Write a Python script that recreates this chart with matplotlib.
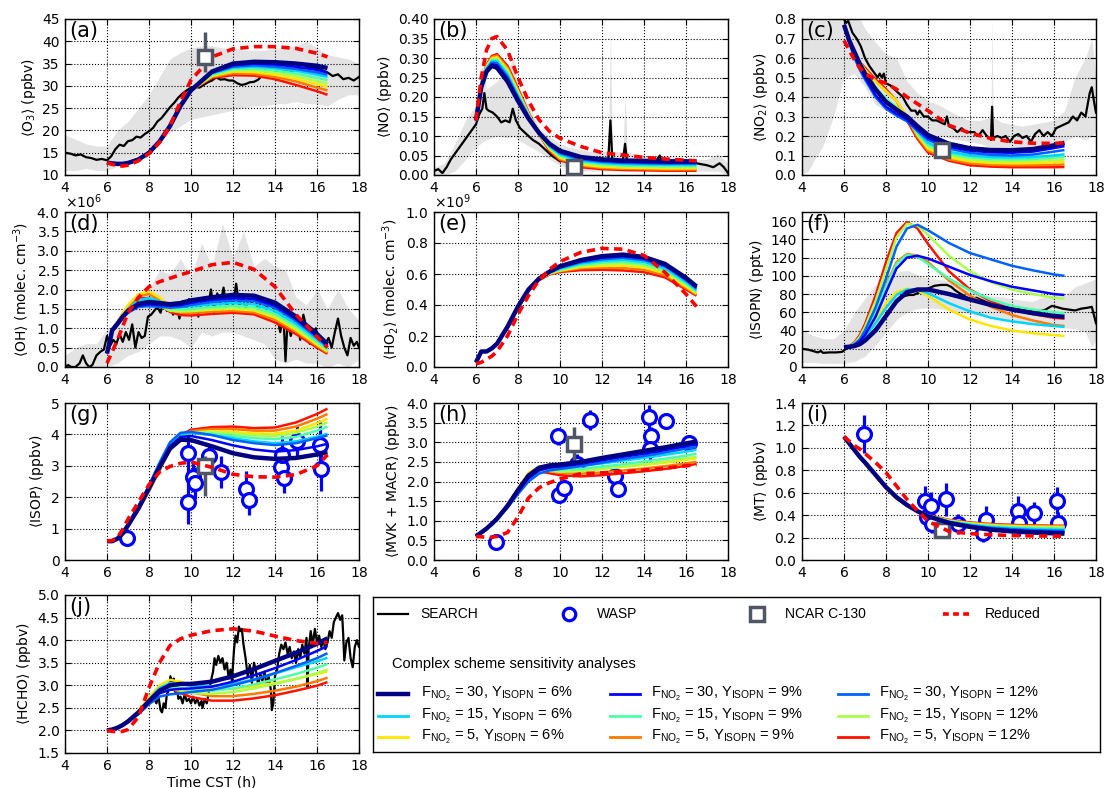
import numpy as np
import matplotlib
matplotlib.use("Agg")
import matplotlib.pyplot as plt
from matplotlib.ticker import FormatStrFormatter, ScalarFormatter

W, H = 1105, 788

plt.rcParams.update({
    "font.family": "DejaVu Sans",
    "font.size": 10,
    "mathtext.default": "regular",
    "axes.linewidth": 1.0,
    "xtick.direction": "in",
    "ytick.direction": "in",
    "xtick.top": True,
    "ytick.right": True,
    "xtick.major.size": 4,
    "ytick.major.size": 4,
    "xtick.major.pad": 4,
    "ytick.major.pad": 4,
})

# model output times (h, CST)
TM = [6, 6.25, 6.5, 6.75, 7, 7.5, 8, 8.5, 9, 9.5, 10, 11, 12, 13, 14, 15, 16, 16.5]

# run order: (F_NO2, Y_ISOPN)
RUNS = [(30, 6), (30, 9), (30, 12), (15, 6), (15, 9), (15, 12), (5, 6), (5, 9), (5, 12)]
COLORS = [plt.cm.jet(i / 9) for i in range(9)]

# ---------------- (a) O3 ----------------
O3_RUNS = [
    [12.8, 12.6, 12.5, 12.5, 12.7, 13.5, 15.0, 17.5, 21.0, 25.5, 29.0, 33.2, 35.0, 35.4, 35.3, 35.0, 34.5, 34.0],
    [12.8, 12.6, 12.5, 12.5, 12.7, 13.5, 15.0, 17.5, 21.0, 25.6, 29.1, 33.0, 34.6, 35.0, 34.8, 34.3, 33.6, 33.0],
    [12.8, 12.6, 12.5, 12.5, 12.7, 13.5, 15.0, 17.6, 21.2, 25.7, 29.2, 32.9, 34.3, 34.6, 34.3, 33.8, 33.0, 32.5],
    [12.8, 12.6, 12.5, 12.5, 12.7, 13.5, 15.0, 17.5, 21.0, 25.5, 29.1, 32.8, 34.1, 34.3, 34.0, 33.4, 32.5, 32.0],
    [12.8, 12.6, 12.5, 12.5, 12.7, 13.5, 15.0, 17.5, 21.0, 25.5, 29.1, 32.6, 33.8, 33.9, 33.5, 32.8, 31.8, 31.3],
    [12.8, 12.6, 12.5, 12.5, 12.7, 13.5, 15.0, 17.5, 21.0, 25.5, 29.1, 32.4, 33.5, 33.5, 33.0, 32.2, 31.1, 30.5],
    [12.8, 12.6, 12.5, 12.5, 12.7, 13.5, 15.0, 17.4, 20.8, 25.3, 29.0, 32.2, 33.2, 33.1, 32.5, 31.6, 30.4, 29.8],
    [12.8, 12.6, 12.5, 12.5, 12.7, 13.5, 15.0, 17.4, 20.8, 25.3, 29.0, 32.0, 32.8, 32.7, 32.0, 31.0, 29.6, 29.0],
    [12.8, 12.6, 12.5, 12.5, 12.7, 13.5, 15.0, 17.4, 20.8, 25.3, 29.0, 31.8, 32.4, 32.3, 31.5, 30.2, 28.8, 28.0],
]
O3_REDUCED = [12.8, 12.4, 12.1, 12.0, 12.2, 13.2, 14.8, 17.3, 21.0, 26.5, 31.3, 36.5, 38.3, 38.8, 38.8, 38.4, 37.3, 36.5]
O3_OBS = [(4, 15.0), (4.25, 14.8), (4.5, 14.4), (4.75, 14.6), (5, 14.0), (5.25, 13.8), (5.5, 13.4),
          (5.75, 13.6), (6, 13.3), (6.2, 14.2), (6.4, 15.8), (6.6, 16.8), (6.8, 16.5), (7, 17.6),
          (7.2, 17.8), (7.4, 18.6), (7.6, 18.4), (7.8, 19.2), (8, 19.8), (8.2, 20.6), (8.4, 22.0),
          (8.6, 22.8), (8.8, 24.0), (9, 25.2), (9.2, 26.2), (9.4, 27.4), (9.6, 28.3), (9.8, 29.0),
          (10, 29.6), (10.2, 29.8), (10.4, 29.6), (10.6, 30.2), (10.8, 30.8), (11, 31.2), (11.2, 31.9),
          (11.4, 31.4), (11.6, 31.5), (11.8, 31.2), (12, 31.2), (12.2, 30.6), (12.4, 30.2), (12.6, 30.4),
          (12.8, 30.8), (13, 30.9), (13.2, 31.4), (13.5, 32.8), (14, 33.5), (14.5, 33.2), (15, 33.6),
          (15.5, 34.2), (16, 34.0), (16.5, 33.0), (16.75, 32.2), (17, 32.6), (17.25, 31.5), (17.5, 31.8),
          (17.75, 31.2), (18, 32.0)]
O3_BAND = [(4, 11, 19), (4.5, 11, 18), (5, 11.5, 17), (5.5, 11, 16.5), (6, 11, 16.5), (6.5, 12, 20),
           (7, 13.5, 22), (7.5, 14.5, 25), (8, 16, 28), (8.5, 17.5, 32), (9, 19.5, 36), (9.5, 21, 37.5),
           (10, 22.5, 38.5), (10.5, 23, 39), (11, 23.5, 39), (11.5, 24, 38.5), (12, 24.5, 38.5),
           (12.5, 25, 38), (13, 25.5, 38), (13.5, 25.5, 38), (14, 26, 38.5), (14.5, 26, 38.5),
           (15, 26.5, 39), (15.5, 26, 40), (16, 26, 38.5), (16.5, 25.5, 37), (17, 27, 36.5),
           (17.5, 28, 36), (18, 28, 35)]
O3_NCAR = [(10.65, 36.5, 3.5, 5.5)]  # t, value, err down, err up

# ---------------- (b) NO ----------------
NO_RUNS = [
    [0.14, 0.225, 0.265, 0.280, 0.275, 0.240, 0.190, 0.145, 0.108, 0.080, 0.062, 0.046, 0.040, 0.037, 0.036, 0.035, 0.035, 0.035],
    [0.14, 0.226, 0.268, 0.284, 0.281, 0.246, 0.195, 0.148, 0.108, 0.078, 0.059, 0.043, 0.037, 0.034, 0.033, 0.032, 0.032, 0.032],
    [0.14, 0.227, 0.270, 0.288, 0.287, 0.252, 0.199, 0.150, 0.108, 0.076, 0.056, 0.040, 0.034, 0.031, 0.030, 0.029, 0.029, 0.029],
    [0.14, 0.228, 0.272, 0.291, 0.291, 0.257, 0.203, 0.152, 0.108, 0.074, 0.053, 0.037, 0.031, 0.028, 0.027, 0.026, 0.026, 0.026],
    [0.14, 0.229, 0.274, 0.294, 0.295, 0.262, 0.207, 0.153, 0.107, 0.072, 0.050, 0.034, 0.028, 0.025, 0.024, 0.023, 0.023, 0.023],
    [0.14, 0.230, 0.276, 0.296, 0.298, 0.266, 0.210, 0.155, 0.107, 0.070, 0.047, 0.031, 0.025, 0.022, 0.021, 0.020, 0.020, 0.020],
    [0.14, 0.231, 0.278, 0.299, 0.302, 0.270, 0.214, 0.156, 0.106, 0.067, 0.044, 0.027, 0.021, 0.019, 0.018, 0.017, 0.017, 0.017],
    [0.14, 0.232, 0.280, 0.302, 0.306, 0.275, 0.218, 0.158, 0.106, 0.065, 0.041, 0.024, 0.018, 0.016, 0.015, 0.014, 0.014, 0.014],
    [0.14, 0.233, 0.282, 0.305, 0.310, 0.280, 0.222, 0.160, 0.105, 0.062, 0.038, 0.020, 0.015, 0.013, 0.012, 0.011, 0.011, 0.011],
]
NO_REDUCED = [0.14, 0.25, 0.32, 0.35, 0.355, 0.32, 0.25, 0.19, 0.142, 0.112, 0.094, 0.073, 0.057, 0.051, 0.045, 0.041, 0.038, 0.036]
NO_OBS = [(4, 0.01), (4.2, 0.015), (4.4, 0.005), (4.6, 0.02), (4.8, 0.04), (5, 0.055), (5.2, 0.07),
          (5.4, 0.085), (5.6, 0.1), (5.8, 0.115), (6, 0.13), (6.15, 0.155), (6.3, 0.17), (6.4, 0.21),
          (6.5, 0.17), (6.6, 0.165), (6.8, 0.16), (7, 0.15), (7.2, 0.135), (7.4, 0.14), (7.6, 0.135),
          (7.75, 0.17), (7.9, 0.14), (8.1, 0.12), (8.3, 0.11), (8.5, 0.1), (8.7, 0.09), (9, 0.08),
          (9.3, 0.065), (9.6, 0.05), (10, 0.035), (10.3, 0.04), (10.6, 0.035), (10.75, 0.045),
          (10.9, 0.03), (11.2, 0.035), (11.5, 0.04), (11.7, 0.03), (11.9, 0.045), (12.1, 0.035),
          (12.3, 0.04), (12.4, 0.14), (12.5, 0.03), (12.8, 0.035), (13, 0.04), (13.1, 0.08),
          (13.2, 0.03), (13.5, 0.035), (14, 0.03), (14.5, 0.03), (14.75, 0.05), (14.85, 0.03),
          (15.2, 0.03), (15.6, 0.03), (16, 0.028), (16.5, 0.03), (17, 0.025), (17.3, 0.02),
          (17.6, 0.03), (17.8, 0.02), (18, 0.005)]
NO_BAND = [(4, 0, 0.02), (4.5, 0, 0.03), (5, 0.01, 0.08), (5.5, 0.04, 0.14), (6, 0.07, 0.18),
           (6.3, 0.085, 0.29), (6.5, 0.09, 0.22), (7, 0.1, 0.24), (7.5, 0.095, 0.27), (7.8, 0.1, 0.3),
           (8, 0.09, 0.22), (8.5, 0.075, 0.18), (9, 0.06, 0.12), (9.5, 0.04, 0.1), (10, 0.025, 0.08),
           (10.5, 0.015, 0.07), (11, 0.01, 0.065), (11.5, 0.01, 0.06), (12, 0.01, 0.06),
           (12.3, 0.01, 0.06), (12.4, 0.01, 0.37), (12.5, 0.01, 0.06), (13, 0.01, 0.06),
           (13.1, 0.01, 0.21), (13.2, 0.01, 0.06), (13.5, 0.01, 0.055), (14, 0.01, 0.05),
           (14.5, 0.01, 0.05), (15, 0.01, 0.05), (15.5, 0.01, 0.045), (16, 0.01, 0.04),
           (16.5, 0.01, 0.04), (17, 0.01, 0.04), (17.5, 0.01, 0.055), (18, 0.0, 0.03)]
NO_NCAR = [(10.65, 0.02, 0.0, 0.0)]

# ---------------- (c) NO2 ----------------
NO2_RUNS = [
    [.77, .69, .63, .57, .52, .44, .375, .335, .30, .25, .205, .16, .137, .128, .127, .133, .152, .165],
    [.77, .68, .61, .55, .50, .41, .35, .315, .285, .235, .19, .145, .125, .116, .114, .12, .138, .148],
    [.77, .68, .60, .54, .49, .40, .34, .305, .275, .225, .18, .135, .113, .103, .10, .105, .12, .128],
    [.77, .69, .62, .56, .51, .44, .38, .34, .29, .225, .165, .12, .10, .092, .09, .093, .10, .106],
    [.77, .69, .62, .56, .52, .45, .39, .345, .29, .215, .155, .11, .09, .082, .08, .082, .09, .094],
    [.77, .69, .62, .56, .52, .45, .39, .35, .29, .21, .145, .10, .08, .072, .07, .072, .077, .08],
    [.77, .69, .63, .58, .54, .48, .43, .38, .30, .205, .135, .09, .07, .062, .06, .061, .065, .068],
    [.77, .69, .63, .58, .54, .48, .43, .38, .295, .195, .125, .08, .06, .052, .05, .05, .052, .054],
    [.77, .69, .63, .58, .55, .49, .44, .38, .28, .185, .115, .073, .05, .043, .04, .04, .04, .041],
]
NO2_REDUCED = [.69, .64, .59, .55, .52, .49, .47, .44, .40, .365, .33, .255, .215, .187, .17, .163, .162, .165]
NO2_OBS = [(6, 0.8), (6.1, 0.78), (6.2, 0.79), (6.4, 0.73), (6.6, 0.7), (6.8, 0.66), (7, 0.6),
           (7.2, 0.56), (7.4, 0.53), (7.6, 0.5), (7.7, 0.52), (7.8, 0.5), (7.9, 0.52), (8, 0.47),
           (8.2, 0.46), (8.4, 0.44), (8.6, 0.42), (8.8, 0.4), (9, 0.36), (9.2, 0.33), (9.4, 0.33),
           (9.5, 0.31), (9.6, 0.33), (9.8, 0.3), (10, 0.3), (10.2, 0.28), (10.4, 0.28), (10.6, 0.27),
           (10.8, 0.26), (10.9, 0.3), (11, 0.25), (11.2, 0.24), (11.4, 0.22), (11.6, 0.24), (11.8, 0.22),
           (12, 0.22), (12.2, 0.22), (12.4, 0.2), (12.6, 0.23), (12.8, 0.2), (13, 0.18), (13.05, 0.35),
           (13.1, 0.19), (13.3, 0.2), (13.5, 0.19), (13.7, 0.2), (13.9, 0.17), (14.1, 0.2), (14.3, 0.21),
           (14.5, 0.19), (14.7, 0.2), (14.9, 0.17), (15.1, 0.21), (15.3, 0.23), (15.5, 0.2), (15.7, 0.22),
           (15.9, 0.2), (16.1, 0.24), (16.3, 0.25), (16.5, 0.26), (16.7, 0.27), (16.9, 0.3), (17.1, 0.28),
           (17.3, 0.32), (17.5, 0.3), (17.7, 0.42), (17.8, 0.45), (17.9, 0.38), (18, 0.32)]
NO2_BAND = [(4, 0.0, 0.85), (4.3, 0.02, 0.85), (4.6, 0.08, 0.85), (5, 0.15, 0.85), (5.5, 0.3, 0.85),
            (6, 0.5, 0.85), (6.5, 0.52, 0.85), (7, 0.45, 0.75), (7.5, 0.36, 0.68), (8, 0.33, 0.62),
            (8.5, 0.3, 0.6), (9, 0.27, 0.48), (9.5, 0.24, 0.42), (10, 0.22, 0.38), (10.5, 0.2, 0.36),
            (11, 0.19, 0.33), (11.5, 0.18, 0.3), (12, 0.17, 0.28), (12.5, 0.16, 0.28), (13, 0.14, 0.3),
            (13.05, 0.14, 0.8), (13.1, 0.14, 0.3), (13.5, 0.14, 0.27), (14, 0.13, 0.26), (14.5, 0.13, 0.25),
            (15, 0.13, 0.26), (15.5, 0.14, 0.27), (16, 0.15, 0.28), (16.5, 0.17, 0.33), (17, 0.2, 0.5),
            (17.5, 0.18, 0.6), (17.8, 0.2, 0.7), (18, 0.22, 0.5)]
NO2_NCAR = [(10.65, 0.13, 0.0, 0.0)]

# ---------------- (d) OH, 1e6 molec cm-3 ----------------
OH_RUNS = [
    [.35, .95, 1.12, 1.30, 1.45, 1.63, 1.68, 1.65, 1.62, 1.65, 1.72, 1.80, 1.86, 1.84, 1.66, 1.30, 0.85, 0.59],
    [.35, .93, 1.10, 1.28, 1.42, 1.58, 1.62, 1.60, 1.58, 1.60, 1.66, 1.74, 1.78, 1.76, 1.58, 1.24, 0.80, 0.55],
    [.35, .92, 1.08, 1.26, 1.40, 1.55, 1.57, 1.55, 1.53, 1.55, 1.60, 1.68, 1.72, 1.70, 1.53, 1.19, 0.76, 0.52],
    [.35, .94, 1.12, 1.32, 1.50, 1.72, 1.78, 1.70, 1.58, 1.55, 1.57, 1.62, 1.65, 1.62, 1.45, 1.12, 0.71, 0.49],
    [.35, .94, 1.12, 1.32, 1.50, 1.72, 1.75, 1.65, 1.52, 1.49, 1.50, 1.55, 1.58, 1.55, 1.38, 1.06, 0.66, 0.45],
    [.35, .94, 1.12, 1.32, 1.50, 1.70, 1.68, 1.58, 1.45, 1.43, 1.45, 1.50, 1.52, 1.49, 1.32, 1.00, 0.62, 0.42],
    [.35, .96, 1.15, 1.38, 1.60, 1.88, 1.95, 1.80, 1.55, 1.45, 1.44, 1.48, 1.50, 1.46, 1.28, 0.96, 0.58, 0.40],
    [.35, .96, 1.15, 1.38, 1.58, 1.84, 1.88, 1.72, 1.48, 1.40, 1.39, 1.43, 1.45, 1.41, 1.22, 0.91, 0.54, 0.37],
    [.35, .96, 1.15, 1.37, 1.56, 1.78, 1.78, 1.63, 1.42, 1.34, 1.33, 1.37, 1.40, 1.36, 1.15, 0.85, 0.50, 0.34],
]
OH_REDUCED = [.10, .40, .70, 1.05, 1.40, 1.80, 2.07, 2.20, 2.29, 2.38, 2.46, 2.64, 2.70, 2.52, 2.07, 1.35, 0.78, 0.50]
OH_OBS = [(4, 0.0), (4.15, 0.05), (4.3, 0.0), (4.5, 0.0), (4.7, 0.1), (4.85, 0.3), (5, 0.1), (5.15, 0.0),
          (5.3, 0.05), (5.5, 0.3), (5.7, 0.4), (5.85, 0.45), (6, 0.8), (6.15, 0.55), (6.3, 0.7), (6.45, 0.6),
          (6.6, 0.85), (6.75, 0.65), (6.9, 0.9), (7.05, 0.7), (7.2, 1.1), (7.35, 0.5), (7.5, 0.9),
          (7.65, 0.75), (7.8, 0.8), (7.95, 1.3), (8.1, 1.35), (8.25, 1.45), (8.4, 1.55), (8.55, 1.4),
          (8.7, 1.7), (8.85, 1.45), (9, 1.55), (9.15, 1.35), (9.3, 1.6), (9.45, 1.25), (9.6, 1.7),
          (9.75, 1.4), (9.9, 1.75), (10.05, 1.55), (10.2, 1.75), (10.35, 1.3), (10.5, 1.7), (10.65, 1.8),
          (10.8, 1.5), (10.95, 2.0), (11.1, 1.4), (11.25, 1.9), (11.4, 1.6), (11.55, 2.05), (11.7, 1.5),
          (11.85, 1.85), (12, 1.6), (12.15, 2.15), (12.3, 1.55), (12.45, 1.85), (12.6, 1.5), (12.75, 1.75),
          (12.9, 1.65), (13.05, 1.8), (13.2, 1.45), (13.35, 1.75), (13.5, 1.6), (13.65, 1.55), (13.8, 1.7),
          (13.95, 1.45), (14.1, 1.3), (14.25, 0.9), (14.4, 1.35), (14.5, 0.15), (14.6, 1.2), (14.75, 0.8),
          (14.9, 1.1), (15.05, 1.3), (15.2, 0.7), (15.35, 1.35), (15.5, 1.0), (15.65, 0.6), (15.8, 0.9),
          (15.95, 1.0), (16.1, 0.5), (16.25, 0.65), (16.4, 0.6), (16.55, 0.75), (16.7, 0.5), (16.85, 0.9),
          (17, 1.25), (17.15, 0.8), (17.3, 0.5), (17.45, 0.3), (17.6, 0.75), (17.75, 0.55), (17.9, 0.65),
          (18, 0.5)]
OH_BAND = [(4, 0, 0.3), (4.5, 0, 0.5), (5, 0, 0.6), (5.5, 0, 0.6), (6, 0, 1.0), (6.5, 0.1, 1.1),
           (7, 0.3, 1.4), (7.5, 0.4, 1.8), (8, 0.6, 2.0), (8.5, 0.8, 2.5), (9, 0.8, 2.4), (9.5, 0.7, 2.8),
           (10, 0.5, 2.3), (10.5, 0.9, 3.2), (11, 0.8, 2.6), (11.5, 0.9, 3.7), (12, 0.9, 2.8),
           (12.5, 0.8, 3.5), (13, 0.7, 2.6), (13.5, 0.6, 2.8), (14, 0.2, 2.6), (14.5, 0.1, 2.5),
           (15, 0.2, 1.8), (15.5, 0.1, 1.6), (16, 0.1, 2.0), (16.5, 0.0, 1.5), (17, 0.1, 2.0),
           (17.5, 0.0, 1.5), (18, 0.2, 1.2)]

# ---------------- (e) HO2, 1e9 molec cm-3 ----------------
HO2_RUNS = [
    [.03, .10, .10, .12, .15, .26, .39, .50, .57, .615, .65, .69, .715, .725, .71, .665, .575, .52],
    [.03, .10, .10, .12, .15, .26, .39, .50, .57, .613, .645, .683, .705, .715, .70, .657, .568, .513],
    [.03, .10, .10, .12, .15, .26, .39, .50, .57, .611, .64, .676, .695, .705, .69, .65, .56, .506],
    [.03, .10, .10, .12, .15, .26, .39, .50, .57, .609, .635, .668, .685, .692, .678, .638, .55, .498],
    [.03, .10, .10, .12, .15, .26, .39, .50, .57, .607, .63, .66, .674, .68, .666, .627, .54, .49],
    [.03, .10, .10, .12, .15, .26, .39, .50, .57, .605, .625, .652, .663, .668, .654, .616, .53, .482],
    [.03, .10, .10, .12, .15, .26, .39, .50, .57, .603, .622, .645, .652, .655, .642, .605, .52, .474],
    [.03, .10, .10, .12, .15, .25, .38, .49, .565, .60, .618, .637, .64, .638, .628, .592, .51, .467],
    [.03, .10, .10, .12, .15, .25, .38, .49, .56, .597, .613, .625, .627, .623, .612, .578, .50, .46],
]
HO2_REDUCED = [.02, .03, .05, .07, .10, .20, .34, .46, .56, .63, .68, .74, .765, .76, .72, .61, .47, .39]

# ---------------- (f) ISOPN, pptv ----------------
ISOPN_RUNS = [
    [22, 22, 23, 25, 29, 40, 56, 72, 82, 85, 85, 80, 74, 68, 63, 59, 56, 55],
    [22, 22.5, 24, 28, 35, 55, 82, 108, 120, 122, 119, 110, 101, 94, 88, 84, 80, 79],
    [22, 23, 25, 30, 40, 65, 97, 132, 152, 156, 150, 136, 125, 118, 111, 106, 101.5, 100],
    [22, 22.5, 24, 27, 32, 48, 65, 79, 85, 85, 81, 70, 61, 54, 50, 47, 45, 44],
    [22, 23, 25, 30, 38, 60, 88, 113, 123, 121, 113, 97, 84, 74, 67, 63, 60, 59],
    [22, 23, 26, 33, 44, 72, 107, 142, 157, 155, 145, 122, 105, 93, 85, 80, 76, 75],
    [22, 23, 24, 28, 35, 52, 70, 82, 86, 84, 78, 63, 52, 45, 40, 37, 35, 34],
    [22, 23, 25, 31, 40, 62, 90, 115, 124, 122, 115, 95, 78, 66, 57, 51, 46, 45],
    [22, 23, 27, 35, 47, 78, 115, 147, 159, 152, 135, 105, 85, 72, 63, 58, 54, 53],
]
ISOPN_OBS = [(4.0, 20), (4.3, 19), (4.6, 17), (4.75, 16), (4.9, 17.5), (5.0, 15.5), (5.3, 16), (5.6, 16),
             (5.9, 16.5), (6.1, 20), (6.3, 22), (6.6, 25), (6.9, 29), (7.2, 35), (7.5, 42), (7.8, 50),
             (8.0, 57), (8.3, 66), (8.6, 75), (8.9, 78), (9.1, 79), (9.3, 79), (9.5, 81), (9.7, 83),
             (9.9, 85), (10.1, 87), (10.3, 89), (10.6, 90), (10.9, 90), (11.1, 88), (11.3, 84), (11.5, 81),
             (11.8, 77), (12.0, 74), (12.3, 76), (12.6, 73), (12.9, 70), (13.2, 68), (13.5, 67), (13.8, 65),
             (14.1, 64), (14.4, 63), (14.7, 62), (15.0, 62), (15.3, 61), (15.6, 63), (15.9, 67), (16.1, 66),
             (16.4, 64), (16.7, 63), (17.0, 62), (17.3, 64), (17.6, 65), (17.8, 66), (18.0, 48)]
ISOPN_BAND = [(4, 5, 40), (4.5, 5, 35), (5, 4, 31), (5.5, 4, 31), (6, 4, 40), (6.5, 6, 60), (7, 12, 75),
              (7.5, 24, 90), (8, 38, 100), (8.5, 52, 104), (9, 60, 106), (9.5, 64, 101), (10, 65, 97),
              (10.5, 64, 96), (11, 62, 95), (11.5, 60, 90), (12, 58, 85), (12.5, 56, 80), (13, 55, 78),
              (13.5, 53, 77), (14, 51, 75), (14.5, 49, 73), (15, 47, 72), (15.5, 45, 77), (16, 44, 80),
              (16.5, 43, 78), (17, 42, 88), (17.5, 38, 92), (17.8, 22, 95), (18, 30, 97)]

# ---------------- (g) ISOP, ppbv ----------------
ISOP_RUNS = [
    [.6, .6, .68, .85, 1.1, 1.65, 2.28, 2.95, 3.55, 3.83, 3.82, 3.62, 3.40, 3.27, 3.22, 3.25, 3.36, 3.43],
    [.6, .6, .68, .86, 1.12, 1.68, 2.32, 3.0, 3.62, 3.92, 3.95, 3.82, 3.65, 3.52, 3.45, 3.5, 3.62, 3.70],
    [.6, .6, .69, .88, 1.15, 1.72, 2.38, 3.1, 3.75, 4.05, 4.08, 3.98, 3.82, 3.72, 3.66, 3.72, 3.88, 3.97],
    [.6, .6, .69, .88, 1.14, 1.70, 2.35, 3.05, 3.7, 4.0, 4.05, 3.98, 3.88, 3.78, 3.72, 3.78, 3.93, 4.02],
    [.6, .6, .68, .87, 1.12, 1.68, 2.32, 3.0, 3.65, 3.98, 4.05, 4.02, 3.95, 3.88, 3.85, 3.92, 4.12, 4.25],
    [.6, .6, .68, .86, 1.1, 1.65, 2.28, 2.95, 3.6, 3.97, 4.07, 4.08, 4.03, 3.97, 3.95, 4.05, 4.25, 4.38],
    [.6, .6, .67, .84, 1.08, 1.6, 2.2, 2.85, 3.5, 3.9, 4.05, 4.1, 4.08, 4.03, 4.02, 4.12, 4.36, 4.5],
    [.6, .6, .67, .84, 1.08, 1.6, 2.2, 2.85, 3.52, 3.95, 4.1, 4.17, 4.17, 4.12, 4.12, 4.25, 4.5, 4.65],
    [.6, .6, .67, .84, 1.08, 1.6, 2.2, 2.85, 3.55, 3.98, 4.15, 4.23, 4.25, 4.2, 4.22, 4.38, 4.65, 4.82],
]
ISOP_REDUCED = [.6, .62, .72, .98, 1.3, 1.85, 2.4, 2.8, 2.98, 3.08, 3.12, 2.95, 2.73, 2.65, 2.64, 2.72, 3.0, 3.35]
ISOP_WASP = [(6.95, 0.7, 0.05), (9.85, 3.4, 0.7), (9.88, 1.85, 0.7), (10.1, 2.65, 0.5), (10.18, 2.45, 0.5),
             (10.85, 3.3, 0.4), (11.45, 2.8, 0.5), (12.62, 2.25, 0.6), (12.78, 1.92, 0.5), (14.28, 2.95, 0.5),
             (14.35, 3.35, 0.6), (14.45, 2.62, 0.5), (15.05, 3.8, 0.5), (16.15, 3.65, 0.8), (16.18, 2.9, 0.7)]
ISOP_NCAR = [(10.65, 3.0, 0.95, 0.3)]

# ---------------- (h) MVK + MACR, ppbv ----------------
MVK_RUNS = [
    [.6, .7, .8, .92, 1.05, 1.38, 1.78, 2.15, 2.35, 2.41, 2.43, 2.5, 2.6, 2.69, 2.78, 2.87, 2.97, 3.02],
    [.6, .7, .8, .92, 1.05, 1.36, 1.74, 2.08, 2.28, 2.35, 2.38, 2.45, 2.54, 2.63, 2.71, 2.8, 2.9, 2.95],
    [.6, .7, .8, .92, 1.04, 1.33, 1.68, 2.0, 2.2, 2.28, 2.32, 2.39, 2.48, 2.57, 2.65, 2.74, 2.84, 2.89],
    [.6, .7, .8, .92, 1.05, 1.37, 1.77, 2.14, 2.33, 2.37, 2.37, 2.4, 2.46, 2.53, 2.6, 2.68, 2.76, 2.81],
    [.6, .7, .8, .92, 1.05, 1.37, 1.76, 2.12, 2.3, 2.32, 2.3, 2.32, 2.38, 2.44, 2.51, 2.58, 2.66, 2.71],
    [.6, .7, .8, .92, 1.05, 1.36, 1.74, 2.08, 2.26, 2.27, 2.25, 2.26, 2.32, 2.38, 2.44, 2.51, 2.59, 2.63],
    [.6, .7, .8, .93, 1.07, 1.41, 1.83, 2.22, 2.38, 2.37, 2.32, 2.29, 2.32, 2.37, 2.42, 2.48, 2.55, 2.59],
    [.6, .7, .8, .93, 1.07, 1.40, 1.81, 2.18, 2.31, 2.27, 2.22, 2.2, 2.23, 2.28, 2.33, 2.39, 2.46, 2.5],
    [.6, .7, .8, .93, 1.06, 1.38, 1.79, 2.15, 2.26, 2.21, 2.16, 2.13, 2.16, 2.21, 2.26, 2.32, 2.40, 2.45],
]
MVK_REDUCED = [.6, .59, .58, .58, .6, .7, 1.1, 1.58, 1.84, 1.97, 2.06, 2.2, 2.22, 2.25, 2.29, 2.34, 2.4, 2.43]
MVK_WASP = [(6.95, 0.47, 0.03), (9.9, 3.15, 0.22), (9.95, 1.65, 0.2), (10.18, 1.83, 0.2), (10.8, 2.45, 0.25),
            (11.45, 3.57, 0.25), (12.62, 2.15, 0.2), (12.75, 1.8, 0.2), (14.25, 3.65, 0.3), (14.35, 3.15, 0.25),
            (14.3, 2.82, 0.3), (15.05, 3.55, 0.2), (16.15, 2.97, 0.15)]
MVK_NCAR = [(10.65, 2.95, 0.45, 0.45)]

# ---------------- (i) MT, ppbv ----------------
MT_RUNS = [
    [1.10, 1.04, .98, .92, .87, .76, .65, .56, .49, .435, .39, .33, .295, .27, .255, .245, .238, .235],
    [1.10, 1.04, .98, .92, .87, .76, .65, .56, .49, .437, .393, .335, .302, .278, .265, .256, .25, .248],
    [1.10, 1.04, .98, .92, .87, .765, .655, .565, .495, .44, .396, .34, .308, .286, .274, .266, .261, .259],
    [1.10, 1.04, .98, .92, .87, .76, .65, .56, .49, .438, .395, .342, .313, .293, .282, .275, .271, .27],
    [1.10, 1.04, .98, .92, .87, .76, .65, .56, .49, .438, .396, .345, .318, .3, .29, .284, .28, .279],
    [1.10, 1.04, .98, .92, .87, .76, .65, .56, .49, .439, .397, .348, .323, .306, .297, .292, .289, .288],
    [1.10, 1.04, .98, .92, .86, .75, .64, .55, .485, .435, .395, .35, .327, .311, .302, .297, .295, .294],
    [1.10, 1.04, .98, .92, .86, .75, .64, .55, .486, .437, .398, .354, .331, .316, .308, .303, .301, .30],
    [1.10, 1.04, .98, .92, .86, .75, .64, .55, .487, .44, .40, .358, .335, .321, .313, .308, .306, .305],
]
MT_REDUCED = [1.1, 1.06, 1.02, .99, .95, .87, .78, .66, .54, .44, .345, .255, .235, .225, .218, .215, .213, .212]
MT_WASP = [(6.95, 1.12, 0.17), (9.88, 0.53, 0.13), (9.95, 0.38, 0.1), (10.15, 0.48, 0.13), (10.2, 0.32, 0.08),
           (10.85, 0.54, 0.15), (11.45, 0.32, 0.09), (12.62, 0.24, 0.08), (12.75, 0.36, 0.12),
           (14.28, 0.44, 0.13), (14.32, 0.33, 0.12), (15.05, 0.42, 0.1), (16.15, 0.53, 0.12), (16.2, 0.33, 0.1)]
MT_NCAR = [(10.65, 0.27, 0.06, 0.0)]

# ---------------- (j) HCHO, ppbv ----------------
HCHO_RUNS = [
    [2.0, 2.02, 2.06, 2.12, 2.2, 2.4, 2.65, 2.88, 3.0, 3.03, 3.03, 3.08, 3.2, 3.36, 3.54, 3.72, 3.92, 4.04],
    [2.0, 2.02, 2.06, 2.12, 2.2, 2.38, 2.62, 2.82, 2.9, 2.92, 2.93, 2.97, 3.08, 3.22, 3.38, 3.56, 3.76, 3.87],
    [2.0, 2.02, 2.06, 2.12, 2.19, 2.36, 2.58, 2.75, 2.8, 2.82, 2.85, 2.9, 3.0, 3.12, 3.27, 3.43, 3.6, 3.71],
    [2.0, 2.02, 2.06, 2.12, 2.2, 2.41, 2.68, 2.94, 3.05, 3.03, 2.99, 2.98, 3.03, 3.13, 3.26, 3.4, 3.53, 3.61],
    [2.0, 2.02, 2.06, 2.12, 2.2, 2.4, 2.66, 2.88, 2.97, 2.94, 2.9, 2.88, 2.93, 3.02, 3.13, 3.25, 3.39, 3.47],
    [2.0, 2.02, 2.06, 2.12, 2.2, 2.39, 2.64, 2.84, 2.92, 2.88, 2.83, 2.81, 2.85, 2.93, 3.03, 3.14, 3.27, 3.35],
    [2.0, 2.02, 2.06, 2.13, 2.22, 2.44, 2.73, 3.0, 3.12, 3.08, 3.0, 2.93, 2.92, 2.98, 3.05, 3.14, 3.25, 3.31],
    [2.0, 2.02, 2.06, 2.13, 2.21, 2.42, 2.7, 2.94, 3.0, 2.92, 2.84, 2.76, 2.76, 2.81, 2.88, 2.97, 3.09, 3.17],
    [2.0, 2.02, 2.06, 2.13, 2.21, 2.41, 2.68, 2.9, 2.93, 2.83, 2.74, 2.66, 2.66, 2.71, 2.78, 2.88, 2.99, 3.07],
]
HCHO_REDUCED = [2.0, 1.98, 1.97, 1.98, 2.02, 2.3, 2.95, 3.5, 3.88, 4.03, 4.11, 4.21, 4.25, 4.2, 4.09, 3.99, 3.93, 3.95]
HCHO_OBS = [(8.25, 2.7), (8.35, 2.6), (8.45, 2.75), (8.55, 2.45), (8.62, 2.4), (8.7, 2.6), (8.78, 2.5),
            (8.85, 2.8), (8.95, 2.9), (9.02, 3.2), (9.1, 3.05), (9.18, 3.15), (9.25, 2.85), (9.32, 2.95),
            (9.4, 2.7), (9.5, 2.75), (9.6, 2.6), (9.7, 2.8), (9.8, 2.65), (9.9, 2.7), (10.0, 2.6),
            (10.1, 2.75), (10.2, 2.6), (10.3, 2.7), (10.4, 2.55), (10.5, 2.65), (10.55, 2.5), (10.65, 2.7),
            (10.75, 2.6), (10.85, 2.85), (10.95, 3.1), (11.05, 3.3), (11.12, 3.6), (11.2, 3.45), (11.3, 3.65),
            (11.4, 3.5), (11.5, 3.6), (11.6, 3.35), (11.7, 3.5), (11.8, 3.15), (11.88, 3.35), (11.95, 3.1),
            (12.05, 3.8), (12.12, 4.1), (12.2, 3.95), (12.28, 4.3), (12.35, 4.2), (12.42, 4.25), (12.5, 3.9),
            (12.6, 3.6), (12.7, 3.2), (12.8, 3.45), (12.9, 3.05), (13.0, 3.5), (13.1, 3.3), (13.2, 3.0),
            (13.3, 3.25), (13.4, 3.1), (13.5, 3.3), (13.6, 3.0), (13.7, 3.2), (13.8, 2.9), (13.85, 2.45),
            (13.92, 2.6), (14.0, 3.2), (14.1, 3.35), (14.2, 3.7), (14.3, 3.9), (14.4, 3.8), (14.5, 3.95),
            (14.6, 3.7), (14.7, 3.85), (14.8, 3.6), (14.9, 3.75), (15.0, 3.5), (15.1, 3.8), (15.2, 3.6),
            (15.3, 3.9), (15.4, 3.7), (15.5, 4.05), (15.55, 2.95), (15.6, 3.8), (15.7, 4.2), (15.8, 3.9),
            (15.9, 4.25), (16.0, 3.95), (16.1, 4.1), (16.2, 3.85), (16.3, 4.0), (16.4, 3.8), (16.5, 3.95),
            (16.6, 4.2), (16.7, 4.05), (16.8, 4.4), (16.9, 4.5), (17.0, 4.6), (17.1, 4.45), (17.2, 4.55),
            (17.25, 4.1), (17.3, 3.55), (17.4, 3.95), (17.5, 4.05), (17.6, 3.6), (17.7, 3.4), (17.8, 3.85),
            (17.9, 4.0), (18.0, 3.85)]

NCAR_COLOR = "#505663"
RED_DASH = (2.3, 1.5)

PANELS = [
    dict(tag="(a)", runs=O3_RUNS, red=O3_REDUCED, obs=O3_OBS, band=O3_BAND, ncar=O3_NCAR, ncar_top=True,
         ylim=(10, 45), yticks=np.arange(10, 46, 5), fmt="%d", ylabel=r"$\langle$O$_3\rangle$ (ppbv)"),
    dict(tag="(b)", runs=NO_RUNS, red=NO_REDUCED, obs=NO_OBS, band=NO_BAND, ncar=NO_NCAR, ncar_top=True,
         ylim=(0, 0.4), yticks=np.arange(0, 0.41, 0.05), fmt="%.2f", ylabel=r"$\langle$NO$\rangle$ (ppbv)"),
    dict(tag="(c)", runs=NO2_RUNS, red=NO2_REDUCED, obs=NO2_OBS, band=NO2_BAND, ncar=NO2_NCAR, ncar_top=True,
         ylim=(0, 0.8), yticks=np.arange(0, 0.81, 0.1), fmt="%.1f", ylabel=r"$\langle$NO$_2\rangle$ (ppbv)"),
    dict(tag="(d)", runs=OH_RUNS, red=OH_REDUCED, obs=OH_OBS, band=OH_BAND, scale=1e6,
         ylim=(0, 4e6), yticks=np.arange(0, 4.01e6, 0.5e6), ylabel=r"$\langle$OH$\rangle$ (molec. cm$^{-3}$)"),
    dict(tag="(e)", runs=HO2_RUNS, red=HO2_REDUCED, scale=1e9,
         ylim=(0, 1e9), yticks=np.arange(0, 1.01e9, 0.2e9), ylabel=r"$\langle$HO$_2\rangle$ (molec. cm$^{-3}$)"),
    dict(tag="(f)", runs=ISOPN_RUNS, obs=ISOPN_OBS, band=ISOPN_BAND,
         ylim=(0, 170), yticks=np.arange(0, 161, 20), fmt="%d", ylabel=r"$\langle$ISOPN$\rangle$ (pptv)"),
    dict(tag="(g)", runs=ISOP_RUNS, red=ISOP_REDUCED, wasp=ISOP_WASP, ncar=ISOP_NCAR,
         ylim=(0, 5), yticks=np.arange(0, 5.1, 1), fmt="%d", ylabel=r"$\langle$ISOP$\rangle$ (ppbv)"),
    dict(tag="(h)", runs=MVK_RUNS, red=MVK_REDUCED, wasp=MVK_WASP, ncar=MVK_NCAR,
         ylim=(0, 4), yticks=np.arange(0, 4.01, 0.5), fmt="%.1f", ylabel=r"$\langle$MVK + MACR$\rangle$ (ppbv)"),
    dict(tag="(i)", runs=MT_RUNS, red=MT_REDUCED, wasp=MT_WASP, ncar=MT_NCAR,
         ylim=(0, 1.4), yticks=np.arange(0, 1.41, 0.2), fmt="%.1f", ylabel=r"$\langle$MT$\rangle$ (ppbv)"),
    dict(tag="(j)", runs=HCHO_RUNS, red=HCHO_REDUCED, obs=HCHO_OBS,
         ylim=(1.5, 5), yticks=np.arange(1.5, 5.01, 0.5), fmt="%.1f", ylabel=r"$\langle$HCHO$\rangle$ (ppbv)"),
]

# axes boxes in pixels: left, top, right, bottom
COL_X = [(65, 359), (434, 728), (802, 1096)]
ROW_Y = [(19, 175), (212, 367), (403, 560), (595, 753)]


def px_axes(fig, x0, y0, x1, y1):
    return fig.add_axes([x0 / W, 1 - y1 / H, (x1 - x0) / W, (y1 - y0) / H])


def draw_panel(ax, p):
    s = p.get("scale", 1.0)
    if "band" in p:
        b = np.array(p["band"], dtype=float)
        ax.fill_between(b[:, 0], b[:, 1] * s, b[:, 2] * s, color="0.89", lw=0, zorder=1)
    if "obs" in p:
        o = np.array(p["obs"], dtype=float)
        ax.plot(o[:, 0], o[:, 1] * s, color="k", lw=1.6, zorder=2)
    if "wasp" in p:
        w = np.array(p["wasp"], dtype=float)
        ax.errorbar(w[:, 0], w[:, 1], yerr=w[:, 2], fmt="o", ms=10, mfc="white", mec="#0000ff",
                    mew=2.3, ecolor="#0000ff", elinewidth=2.3, capsize=0, zorder=3)
    if "ncar" in p:
        n = np.array(p["ncar"], dtype=float)
        z = 7 if p.get("ncar_top") else 3.5
        ax.errorbar(n[:, 0], n[:, 1], yerr=[n[:, 2], n[:, 3]], fmt="s", ms=10, mfc="white",
                    mec=NCAR_COLOR, mew=2.5, ecolor=NCAR_COLOR, elinewidth=2.5, capsize=0, zorder=z)
    for i in reversed(range(len(RUNS))):
        vals = np.asarray(p["runs"][i], dtype=float)
        assert len(vals) == len(TM), (p["tag"], i)
        ax.plot(TM, vals * s, color=COLORS[i], lw=3.2 if i == 0 else 1.8,
                zorder=4 + (1 if i == 0 else 0), solid_capstyle="butt")
    if "red" in p:
        r = np.asarray(p["red"], dtype=float)
        assert len(r) == len(TM), p["tag"]
        ax.plot(TM, r * s, color="#ff0000", ls="--", lw=2.6, dashes=RED_DASH, zorder=6)

    ax.set_xlim(4, 18)
    ax.set_xticks(np.arange(4, 19, 2))
    ax.set_ylim(*p["ylim"])
    ax.set_yticks(p["yticks"])
    if "scale" in p:
        f = ScalarFormatter(useMathText=True)
        f.set_powerlimits((0, 0))
        ax.yaxis.set_major_formatter(f)
        ax.yaxis.get_offset_text().set_fontsize(10)
    else:
        ax.yaxis.set_major_formatter(FormatStrFormatter(p["fmt"]))
    ax.grid(True, color="k", ls=":", lw=0.8)
    ax.set_axisbelow(False)
    ax.set_ylabel(p["ylabel"], fontsize=10, labelpad=3)
    ax.text(0.015, 0.985, p["tag"], transform=ax.transAxes, ha="left", va="top", fontsize=15, zorder=10)


fig = plt.figure(figsize=(W / 100, H / 100), dpi=100)
fig.patch.set_facecolor("white")

for k, p in enumerate(PANELS):
    r, c = divmod(k, 3)
    (x0, x1), (y0, y1) = COL_X[c], ROW_Y[r]
    ax = px_axes(fig, x0, y0, x1, y1)
    draw_panel(ax, p)
    if p["tag"] == "(j)":
        ax.set_xlabel("Time CST (h)", fontsize=10, labelpad=2)

# legend box
lg = px_axes(fig, 373, 597, 1100, 752)
lg.set_xlim(0, 727)
lg.set_ylim(155, 0)
lg.set_xticks([])
lg.set_yticks([])
for sp in lg.spines.values():
    sp.set_linewidth(1.0)
LFONT = dict(family="Liberation Sans", fontsize=10, va="center")

lg.plot([5, 35], [17, 17], color="k", lw=1.6)
lg.text(47, 17, "SEARCH", **LFONT)
lg.plot([196], [17], "o", ms=9, mfc="white", mec="#0000ff", mew=2.3)
lg.text(224, 17, "WASP", **LFONT)
lg.plot([384], [17], "s", ms=10, mfc="white", mec=NCAR_COLOR, mew=2.5)
lg.text(412, 17, "NCAR C-130", **LFONT)
lg.plot([570, 600], [17, 17], color="#ff0000", ls="--", lw=2.6, dashes=(1.6, 1.2))
lg.text(612, 17, "Reduced", **LFONT)
lg.text(19, 67, "Complex scheme sensitivity analyses", family="Liberation Sans", fontsize=10.5, va="center")

col_x = [(5, 35, 48), (237, 267, 278), (465, 495, 506)]
row_y = [97, 119, 140]
for i, (fno2, yis) in enumerate(RUNS):
    rr, cc = divmod(i, 3)
    hx0, hx1, tx = col_x[cc]
    yy = row_y[rr]
    lg.plot([hx0, hx1], [yy, yy], color=COLORS[i], lw=3.2 if i == 0 else 2.0)
    lg.text(tx, yy, r"F$_{NO_2}$ = %d, Y$_{ISOPN}$ = %d%%" % (fno2, yis),
            family="Liberation Sans", fontsize=10.5, va="center")

fig.savefig("out.png", dpi=100, facecolor="white")
